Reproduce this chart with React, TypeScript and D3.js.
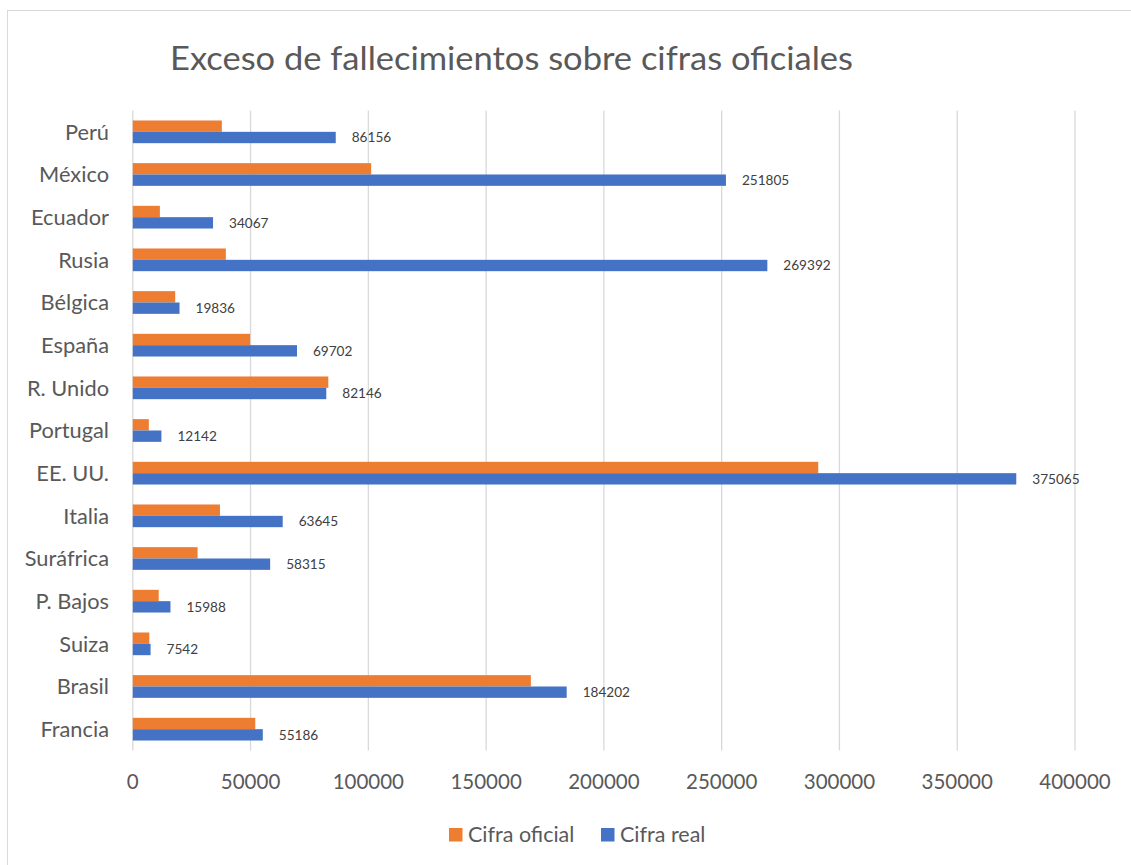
import React from "react";
import * as d3 from "d3";

const categories = ["Perú", "México", "Ecuador", "Rusia", "Bélgica", "España", "R. Unido", "Portugal", "EE. UU.", "Italia", "Suráfrica", "P. Bajos", "Suiza", "Brasil", "Francia"];
const oficial = [37800, 101200, 11500, 39500, 18000, 49800, 83000, 6800, 291000, 37000, 27500, 11000, 7000, 169000, 52000];
const real = [86156, 251805, 34067, 269392, 19836, 69702, 82146, 12142, 375065, 63645, 58315, 15988, 7542, 184202, 55186];
const xTicks = [0, 50000, 100000, 150000, 200000, 250000, 300000, 350000, 400000];
const seriesNames = ["Cifra oficial", "Cifra real"];
const title = "Exceso de fallecimientos sobre cifras oficiales";

const ORANGE = "#ED7D31";
const BLUE = "#4472C4";
const GRID = "#D9D9D9";
const TEXT = "#595959";
const FONT = "Lato, 'Open Sans', sans-serif";

export default function App() {
  const W = 1131, H = 865;
  const left = 132.8, right = 1075, top = 110.5, bottom = 750.5;
  const x = d3.scaleLinear().domain([0, 400000]).range([left, right]);
  const y0 = d3.scaleBand<string>().domain(categories).range([top, bottom]).paddingInner(0.468).paddingOuter(0.234);
  const y1 = d3.scaleBand<string>().domain(["oficial", "real"]).range([0, y0.bandwidth()]);
  const values: Record<string, number[]> = { oficial, real };
  const colors: Record<string, string> = { oficial: ORANGE, real: BLUE };

  return (
    <svg width={W} height={H} style={{ position: "absolute", left: 0, top: 0, background: "#fff" }} fontFamily={FONT}>
      <rect x={7.5} y={10.5} width={1300} height={1000} fill="#fff" stroke={GRID} strokeWidth={1} />
      <text x={170} y={70} fontSize={32} textLength={683} lengthAdjust="spacingAndGlyphs" fill={TEXT}>{title}</text>
      {xTicks.map((t) => (
        <g key={t}>
          <line x1={x(t)} x2={x(t)} y1={top} y2={bottom} stroke={GRID} strokeWidth={1.3} />
          <text x={x(t)} y={789} textAnchor="middle" fontSize={20.5} fill={TEXT}>{t}</text>
        </g>
      ))}
      {categories.map((c, i) => (
        <g key={c}>
          {(["oficial", "real"] as const).map((s) => (
            <rect key={s} x={x(0)} y={(y0(c) as number) + (y1(s) as number)} width={x(values[s][i]) - x(0)} height={y1.bandwidth()} fill={colors[s]} />
          ))}
          <text x={x(real[i]) + 16} y={(y0(c) as number) + (y1("real") as number) + y1.bandwidth() / 2} dy="0.36em" fontSize={13.6} fill="#404040">{real[i]}</text>
          <text x={109} y={(y0(c) as number) + y0.bandwidth() / 2} dy="0.36em" textAnchor="end" fontSize={21.8} fill={TEXT}>{c}</text>
        </g>
      ))}
      <rect x={449} y={828} width={13.5} height={13.5} fill={ORANGE} />
      <text x={468} y={842} fontSize={21.5} fill={TEXT}>{seriesNames[0]}</text>
      <rect x={601} y={828} width={13.5} height={13.5} fill={BLUE} />
      <text x={620} y={842} fontSize={21.5} fill={TEXT}>{seriesNames[1]}</text>
    </svg>
  );
}
